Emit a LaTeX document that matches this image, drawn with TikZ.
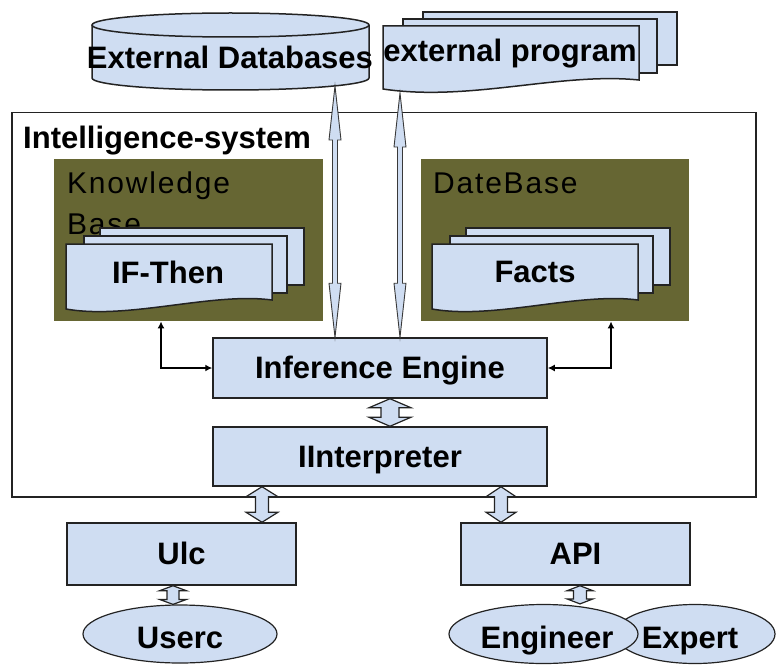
\documentclass[tikz,border=0pt]{standalone}
\usepackage{fontspec}
\setmainfont{Liberation Sans}
\newfontfamily\spacedfont[LetterSpace=6]{Liberation Sans}
\usetikzlibrary{shapes.geometric,calc,arrows.meta}
\definecolor{lb}{RGB}{207,221,242}
\definecolor{kbolive}{RGB}{102,102,51}
\definecolor{edge}{RGB}{35,35,35}
\newcommand\vdarrow[7]{\path[#1] let \p1=(#3 -| #2), \p2=(#4 -| #2) in
  (\x1,\y1) -- (\x1+#6,\y1-#7) -- (\x1+#5,\y1-#7) -- (\x1+#5,\y2+#7) -- (\x1+#6,\y2+#7) --
  (\x1,\y2) -- (\x1-#6,\y2+#7) -- (\x1-#5,\y2+#7) -- (\x1-#5,\y1-#7) -- (\x1-#6,\y1-#7) -- cycle;}
\begin{document}
\begin{tikzpicture}[x=1pt,y=-1pt,
  txt/.style={font=\spacedfont\fontsize{30}{34}\selectfont, inner sep=0pt},
  btxt/.style={font=\fontsize{31}{34}\selectfont\bfseries, inner sep=0pt},
  box/.style={draw=edge, line width=1.5pt, fill=lb, inner sep=0pt,
    font=\fontsize{31}{34}\selectfont\bfseries, text height=21pt, text depth=0pt},
  oval/.style={ellipse, draw=edge, line width=1.2pt, fill=lb, inner sep=0pt,
    font=\fontsize{31}{34}\selectfont\bfseries, text height=28pt, text depth=0pt},
  page/.style={draw=edge, line width=1.5pt, fill=lb},
  bigarr/.style={fill=lb, draw=gray!45!black, line width=0.9pt},
  fatarr/.style={fill=lb, draw=edge, line width=1.2pt},
  thinarr/.style={draw=black, line width=1.4pt, {Latex[length=7pt,width=7pt]}-{Latex[length=7pt,width=7pt]}},
  pics/docstack/.style={code={
    \path[page] (34,-16) rectangle (238,41);
    \path[page] (18,-8) rectangle (221,49);
    \path[page] (0,0) -- (206,0) -- (206,56) .. controls (146,48) and (62,76) .. (0,65) -- cycle;
  }}]
\useasboundingbox (0,0) rectangle (776,666);

% External Databases cylinder
\path[fill=lb] (92,25) rectangle (369,78);
\path[fill=lb] (230.5,78) ellipse[x radius=138.5pt, y radius=12pt];
\draw[edge, line width=1.5pt] (92,25) -- (92,78) arc[start angle=180, end angle=360, x radius=138.5pt, y radius=12pt] -- (369,25);
\draw[edge, line width=1.5pt, fill=lb] (230.5,25) ellipse[x radius=138.5pt, y radius=12pt];
\node[btxt, anchor=base] (extdb) at (230,69) {External Databases};

% external program stack
\path[page] (423,12) rectangle (677,65);
\path[page] (403,19) rectangle (657,73);
\path[page] (383,26) -- (639,26) -- (639,80) .. controls (560,72) and (470,102) .. (383,89) -- cycle;
\node[btxt, anchor=base] (prog) at (510,62) {external program};

% Intelligence system
\node[draw=edge, line width=1.5pt, minimum width=744pt, minimum height=384pt, anchor=north west, inner sep=0pt] (sys) at (11,112) {};
\node[btxt, anchor=base west] (syslbl) at (23,148) {Intelligence-system};

% olive containers
\node[fill=kbolive, minimum width=269pt, minimum height=162pt, anchor=north west, inner sep=0pt] (kb) at (54,159) {};
\node[fill=kbolive, minimum width=268pt, minimum height=162pt, anchor=north west, inner sep=0pt] (db) at (421,159) {};
\node[txt, anchor=base west] (kbl1) at (67,193) {Knowledge};
\node[txt, anchor=base west] (kbl2) at (67,234) {Base};
\node[txt, anchor=base west] (dbl) at (433,193) {DateBase};

% document stacks
\pic at (66,244) {docstack};
\node[btxt, anchor=base] (ifthen) at (168,283) {IF-Then};
\pic at (432,244) {docstack};
\node[btxt, anchor=base] (facts) at (535,282) {Facts};

% main boxes
\node[box, minimum width=334pt, minimum height=60pt] (ie) at (380,368) {Inference Engine};
\node[box, minimum width=334pt, minimum height=59pt] (interp) at (380,456.5) {IInterpreter};
\node[box, minimum width=229pt, minimum height=62pt] (ulc) at (181.5,554) {Ulc};
\node[box, minimum width=229pt, minimum height=62pt] (api) at (575.5,554) {API};

% ellipses
\node[oval, minimum width=160pt, minimum height=59pt] (expert) at (695,634) {};
\node[btxt, anchor=base] (expertlbl) at (690,648) {Expert};
\node[oval, minimum width=189pt, minimum height=59pt] (eng) at (543.5,634) {};
\node[btxt, anchor=base] (englbl) at (547,648) {Engineer};
\node[oval, minimum width=194pt, minimum height=58pt] (userc) at (180,634) {};
\node[btxt, anchor=base] (usercbl) at (180,648) {Userc};

% reference coordinates for connector positions
\coordinate (cylL) at (335,86);
\coordinate (progL) at (400,93);
\coordinate (xA) at ($(ie.south)+(10,0)$);
\coordinate (xB) at ($(ulc.north)+(80.5,0)$);
\coordinate (xC) at ($(api.north)-(74.5,0)$);
\coordinate (xD) at ($(userc.north)-(7,0)$);
\coordinate (xE) at ($(eng.north)+(36.5,0)$);

% big thin double arrows
\vdarrow{bigarr}{cylL}{cylL}{ie.north}{2.5pt}{6pt}{54pt}
\vdarrow{bigarr}{progL}{progL}{ie.north}{2.5pt}{6pt}{54pt}

% fat double arrows
\vdarrow{fatarr}{xA}{ie.south}{interp.north}{9pt}{21pt}{9pt}
\vdarrow{fatarr}{xB}{interp.south}{ulc.north}{6.5pt}{16pt}{10pt}
\vdarrow{fatarr}{xC}{interp.south}{api.north}{6.5pt}{15pt}{10pt}
\vdarrow{fatarr}{xD}{ulc.south}{userc.north}{6pt}{13.5pt}{5pt}
\vdarrow{fatarr}{xE}{api.south}{eng.north}{6.5pt}{13pt}{5pt}

% thin connectors
\draw[thinarr] ($(kb.south west)+(107,0)$) |- (ie.west);
\draw[thinarr] ($(db.south west)+(190,0)$) |- (ie.east);
\end{tikzpicture}
\end{document}
